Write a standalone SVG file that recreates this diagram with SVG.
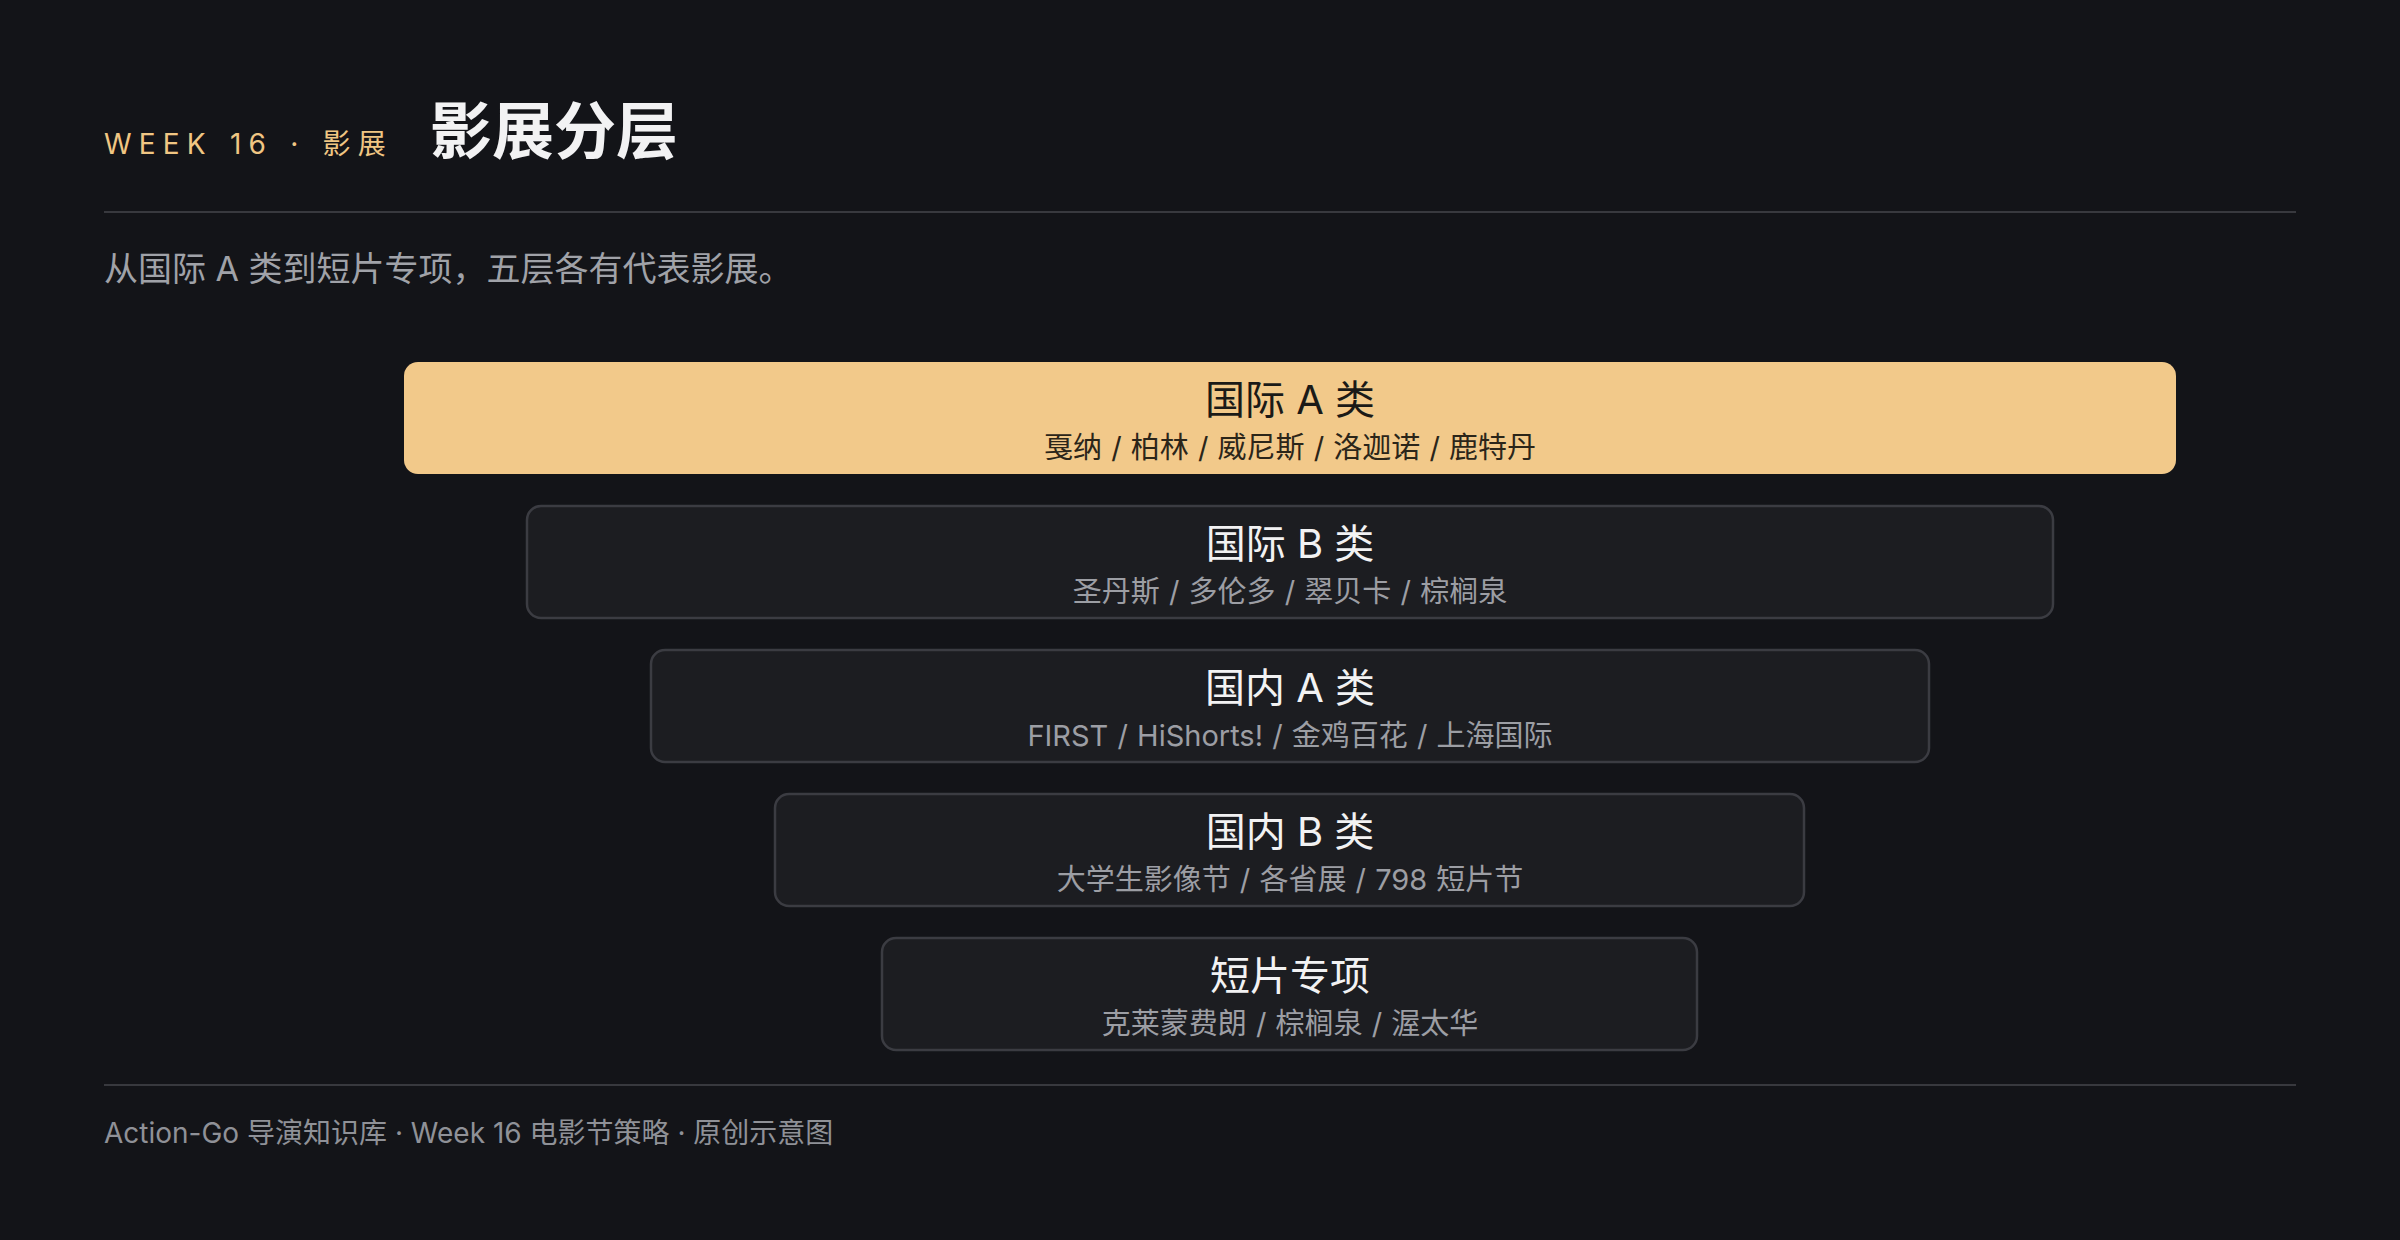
<svg xmlns="http://www.w3.org/2000/svg" width="2400" height="1240" viewBox="0 0 2400 1240">
<style>
.t{font-family:Inter,"Liberation Sans","Noto Sans CJK SC",sans-serif}
.box{fill:#1c1d21;stroke:#3b3c42;stroke-width:2.5}
.hl{fill:#f2c98a}
.bt{font-size:40px;fill:#f2f2f3;text-anchor:middle}
.bs{font-size:29px;fill:#9c9ea4;text-anchor:middle;word-spacing:1px}
.hl-t{fill:#1b1a17}
.hl-s{fill:#2b2519}
.rule{stroke:#38393e;stroke-width:2}
</style>
<rect width="2400" height="1240" fill="#131418"/>
<g id="header">
<text class="t" x="104" y="154" font-size="28" letter-spacing="7.2" word-spacing="2" fill="#f0c683">WEEK 16 · 影展</text>
<text class="t" x="430" y="154" font-size="62" font-weight="700" fill="#f2f2f3">影展分层</text>
<line class="rule" x1="104" y1="212" x2="2296" y2="212"/>
<text class="t" x="104" y="281" font-size="34" fill="#a0a2a8">从国际 A 类到短片专项，五层各有代表影展。</text>
</g>
<g id="tier1">
<rect class="hl" x="404" y="362" width="1772" height="112" rx="14"/>
<text class="t bt hl-t" x="1290" y="414">国际 A 类</text>
<text class="t bs hl-s" x="1290" y="458">戛纳 / 柏林 / 威尼斯 / 洛迦诺 / 鹿特丹</text>
</g>
<g id="tier2">
<rect class="box" x="527" y="506" width="1526" height="112" rx="14"/>
<text class="t bt" x="1290" y="558">国际 B 类</text>
<text class="t bs" x="1290" y="602">圣丹斯 / 多伦多 / 翠贝卡 / 棕榈泉</text>
</g>
<g id="tier3">
<rect class="box" x="651" y="650" width="1278" height="112" rx="14"/>
<text class="t bt" x="1290" y="702">国内 A 类</text>
<text class="t bs" x="1290" y="746">FIRST / HiShorts! / 金鸡百花 / 上海国际</text>
</g>
<g id="tier4">
<rect class="box" x="775" y="794" width="1029" height="112" rx="14"/>
<text class="t bt" x="1290" y="846">国内 B 类</text>
<text class="t bs" x="1290" y="890">大学生影像节 / 各省展 / 798 短片节</text>
</g>
<g id="tier5">
<rect class="box" x="882" y="938" width="815" height="112" rx="14"/>
<text class="t bt" x="1290" y="990">短片专项</text>
<text class="t bs" x="1290" y="1034">克莱蒙费朗 / 棕榈泉 / 渥太华</text>
</g>
<g id="connectors"></g>
<g id="footer">
<line class="rule" x1="104" y1="1085" x2="2296" y2="1085"/>
<text class="t" x="104" y="1143" font-size="28" fill="#8f9197">Action-Go 导演知识库 · Week 16 电影节策略 · 原创示意图</text>
</g>
</svg>
